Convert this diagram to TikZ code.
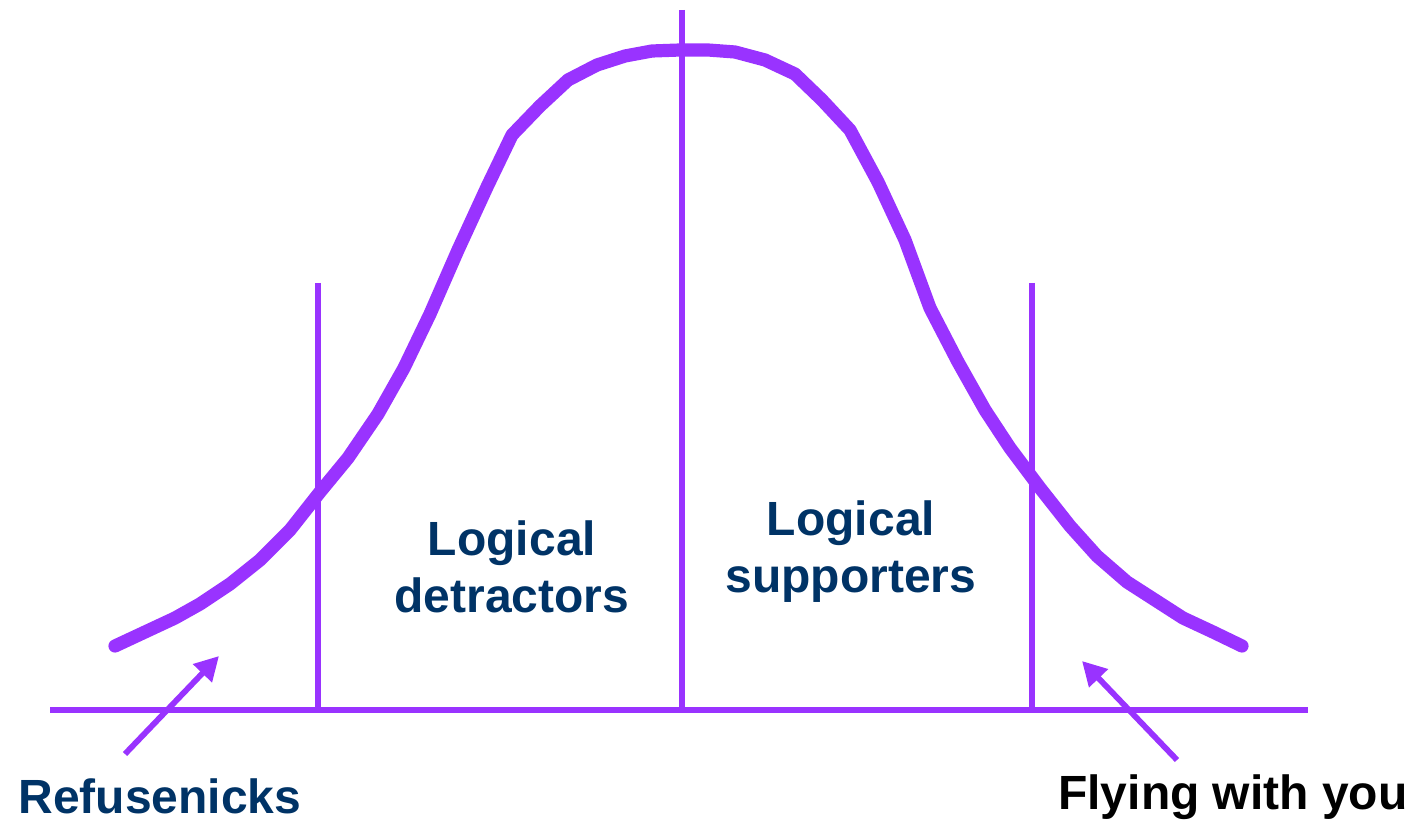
\documentclass[tikz,border=0pt]{standalone}
\usepackage{fontspec}
\setmainfont{Liberation Sans}
\usetikzlibrary{arrows.meta}
\definecolor{vio}{HTML}{9933FF}
\definecolor{navy}{HTML}{003366}
\begin{document}
\begin{tikzpicture}[x=0.5pt,y=-0.5pt,
  thinline/.style={draw=vio,line width=2.9pt},
  curveline/.style={draw=vio,line width=6.6pt,line cap=round,line join=round},
  pointer/.style={draw=vio,line width=2.9pt,-{Triangle[length=12pt,width=12.5pt]}},
  lbl/.style={font=\bfseries\fontsize{24}{28.5}\selectfont,text=navy,align=center,inner sep=0pt}]
\useasboundingbox (0,0) rectangle (1413,823);
% axis and dividers
\coordinate (axL) at (50,710);
\coordinate (axR) at (1308,710);
\draw[thinline] (axL) -- (axR);
\coordinate (v1t) at (318,283); \coordinate (v1b) at (318,708);
\coordinate (v2t) at (682,10);  \coordinate (v2b) at (682,708);
\coordinate (v3t) at (1032,283); \coordinate (v3b) at (1032,708);
\draw[thinline] (v1t) -- (v1b);
\draw[thinline] (v2t) -- (v2b);
\draw[thinline] (v3t) -- (v3b);
% bell curve
\draw[curveline] (115,646) -- (145,632) -- (175,618) -- (200,604) -- (230,584) -- (260,560) -- (290,530) -- (320,492) -- (348,458) -- (378,414) -- (404,368) -- (430,314) -- (458,250) -- (487,187) -- (512,135) -- (540,106) -- (568,80) -- (597,65) -- (625,56) -- (652,51) -- (680,50) -- (708,50) -- (735,52) -- (765,60) -- (795,74) -- (822,100) -- (850,130) -- (878,182) -- (905,240) -- (930,308) -- (958,362) -- (985,410) -- (1010,448) -- (1040,488) -- (1070,526) -- (1097,556) -- (1127,582) -- (1155,600) -- (1183,618) -- (1213,632) -- (1242,646);
% labels
\node[lbl] (det) at (512,567) {Logical\\detractors};
\node[lbl] (sup) at (851,552) {Logical\\supporters};
\node[lbl,anchor=west] (ref) at (18,796) {Refusenicks};
\node[lbl,anchor=east,text=black] (fly) at (1408,797) {Flying with you};
% arrows
\coordinate (a1s) at (125,754); \coordinate (a1e) at (219,656);
\coordinate (a2s) at (1177,760); \coordinate (a2e) at (1082,661);
\draw[pointer] (a1s) -- (a1e);
\draw[pointer] (a2s) -- (a2e);
\end{tikzpicture}
\end{document}
